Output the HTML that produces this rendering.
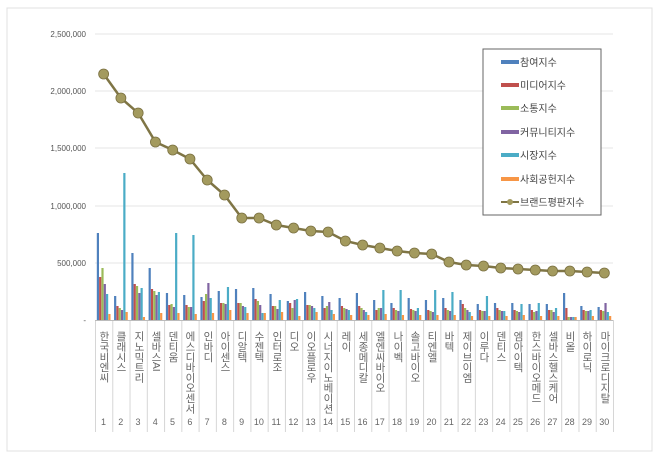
<!DOCTYPE html>
<html><head><meta charset="utf-8"><style>
body{margin:0;background:#fff;width:660px;height:459px;overflow:hidden;position:relative;font-family:"Liberation Sans","Noto Sans CJK KR",sans-serif}
.lab{position:absolute;top:331px;width:17px;writing-mode:vertical-rl;font-size:10.5px;line-height:17px;color:#666;letter-spacing:-0.2px;font-family:"Liberation Sans","Noto Sans CJK KR",sans-serif}
.num{position:absolute;top:417px;width:17px;text-align:center;font-size:9px;color:#666}
</style></head><body>
<svg id="s" width="660" height="459" style="position:absolute;left:0;top:0">
<rect x="7" y="8" width="645" height="443" fill="none" stroke="#e0e0e0"/>
<g stroke="#e6e6e6" stroke-width="1">
<line x1="95" x2="613" y1="34" y2="34"/><line x1="95" x2="613" y1="91" y2="91"/><line x1="95" x2="613" y1="148" y2="148"/><line x1="95" x2="613" y1="206" y2="206"/><line x1="95" x2="613" y1="263" y2="263"/>
</g>
<g font-size="8" fill="#555" text-anchor="end" font-family="Liberation Sans,sans-serif">
<text x="86" y="37">2,500,000</text><text x="86" y="94">2,000,000</text><text x="86" y="151">1,500,000</text><text x="86" y="209">1,000,000</text><text x="86" y="266">500,000</text><text x="86" y="323">-</text>
</g>
<g id="bars"></g>
<g id="ticks" stroke="#d6d6d6"></g>
<line x1="95" x2="613" y1="320.5" y2="320.5" stroke="#bbb"/>
<g id="line"></g>
<rect x="483" y="49" width="118" height="166" fill="#fff" stroke="#666"/>
<g font-size="10" fill="#444" font-family="Liberation Sans,Noto Sans CJK KR,sans-serif">
<rect x="501" y="60" width="18" height="4" fill="#4f81bd"/><text x="520" y="66">참여지수</text>
<rect x="501" y="83" width="18" height="4" fill="#c0504d"/><text x="520" y="89">미디어지수</text>
<rect x="501" y="106" width="18" height="4" fill="#9bbb59"/><text x="520" y="112">소통지수</text>
<rect x="501" y="130" width="18" height="4" fill="#8064a2"/><text x="520" y="136">커뮤니티지수</text>
<rect x="501" y="153" width="18" height="4" fill="#4bacc6"/><text x="520" y="159">시장지수</text>
<rect x="501" y="177" width="18" height="4" fill="#f79646"/><text x="520" y="183">사회공헌지수</text>
<line x1="501" x2="519" y1="202" y2="202" stroke="#7f7545" stroke-width="2"/><circle cx="510" cy="202" r="3" fill="#a39a5e"/><text x="520" y="206">브랜드평판지수</text>
</g>
</svg>
<div class="lab" style="left:95px">한국비엔씨</div><div class="lab" style="left:112px">클래시스</div><div class="lab" style="left:130px">지노믹트리</div><div class="lab" style="left:147px">셀바스AI</div><div class="lab" style="left:164px">덴티움</div><div class="lab" style="left:181px">에스디바이오센서</div><div class="lab" style="left:199px">인바디</div><div class="lab" style="left:216px">아이센스</div><div class="lab" style="left:233px">디알텍</div><div class="lab" style="left:250px">수젠텍</div><div class="lab" style="left:268px">인터로조</div><div class="lab" style="left:285px">디오</div><div class="lab" style="left:302px">이오플로우</div><div class="lab" style="left:319px">시너지이노베이션</div><div class="lab" style="left:337px">레이</div><div class="lab" style="left:354px">세종메디칼</div><div class="lab" style="left:371px">엘엔씨바이오</div><div class="lab" style="left:389px">나이벡</div><div class="lab" style="left:406px">솔고바이오</div><div class="lab" style="left:423px">티엔엘</div><div class="lab" style="left:440px">바텍</div><div class="lab" style="left:458px">제이브이엠</div><div class="lab" style="left:475px">이루다</div><div class="lab" style="left:492px">덴티스</div><div class="lab" style="left:509px">엠아이텍</div><div class="lab" style="left:527px">한스바이오메드</div><div class="lab" style="left:544px">셀바스헬스케어</div><div class="lab" style="left:561px">비올</div><div class="lab" style="left:578px">하이로닉</div><div class="lab" style="left:596px">마이크로디지탈</div>
<div id="nums"></div>
<script>
var ns="http://www.w3.org/2000/svg",x0=95,w=(613-95)/30,base=320;
var H=[[87,43,52,36,26,6],[24,14,12,10,147,8],[67,36,34,27,32,3],[52,31,29,25,28,7],[27,15,16,13,87,7],[25,15,13,13,85,6],[23,19,26,37,22,7],[29,17,17,16,33,10],[31,17,17,14,13,7],[32,21,19,15,7,7],[26,14,14,11,20,8],[19,17,12,20,21,4],[28,15,15,14,12,8],[24,12,14,18,10,6],[22,14,12,11,10,5],[27,14,12,10,8,5],[20,10,12,12,30,6],[17,12,10,9,30,5],[22,11,10,9,12,5],[20,10,9,8,30,5],[22,12,10,9,28,5],[20,16,12,10,8,4],[16,10,9,9,24,4],[17,12,10,9,9,4],[17,10,9,8,16,5],[16,10,8,9,17,4],[16,10,10,8,12,4],[27,12,3,3,3,3],[14,10,9,9,10,4],[13,10,9,17,8,4]];
var C=["#4f81bd","#c0504d","#9bbb59","#8064a2","#4bacc6","#f79646"];
var g=document.getElementById("bars"),t=document.getElementById("ticks"),nd=document.getElementById("nums");
for(var i=0;i<30;i++){var cx=x0+i*w;
for(var j=0;j<6;j++){var r=document.createElementNS(ns,"rect");r.setAttribute("x",cx+1.8+j*2.3);r.setAttribute("width",2.2);r.setAttribute("y",base-H[i][j]);r.setAttribute("height",H[i][j]);r.setAttribute("fill",C[j]);g.appendChild(r);}
var l=document.createElementNS(ns,"line");l.setAttribute("x1",cx+0.5);l.setAttribute("x2",cx+0.5);l.setAttribute("y1",320);l.setAttribute("y2",432);t.appendChild(l);
var d=document.createElement("div");d.className="num";d.style.left=cx+"px";d.textContent=i+1;nd.appendChild(d);}
var l=document.createElementNS(ns,"line");l.setAttribute("x1",613.5);l.setAttribute("x2",613.5);l.setAttribute("y1",320);l.setAttribute("y2",432);t.appendChild(l);
var Y=[74,98,113,142,150,159,180,195,218,218,225,228,231,232,241,245,248,251,253,254,262,265,266,268,269,270,271,271,272,273];
var lg=document.getElementById("line"),pts=Y.map(function(y,i){return (x0+i*w+w/2)+","+y}).join(" ");
var pl=document.createElementNS(ns,"polyline");pl.setAttribute("points",pts);pl.setAttribute("fill","none");pl.setAttribute("stroke","#7f7545");pl.setAttribute("stroke-width","2.5");lg.appendChild(pl);
Y.forEach(function(y,i){var c=document.createElementNS(ns,"circle");c.setAttribute("cx",x0+i*w+w/2);c.setAttribute("cy",y);c.setAttribute("r",5);c.setAttribute("fill","#a39a5e");c.setAttribute("stroke","#7a7040");c.setAttribute("stroke-width","0.8");lg.appendChild(c);});
</script>
</body></html>
